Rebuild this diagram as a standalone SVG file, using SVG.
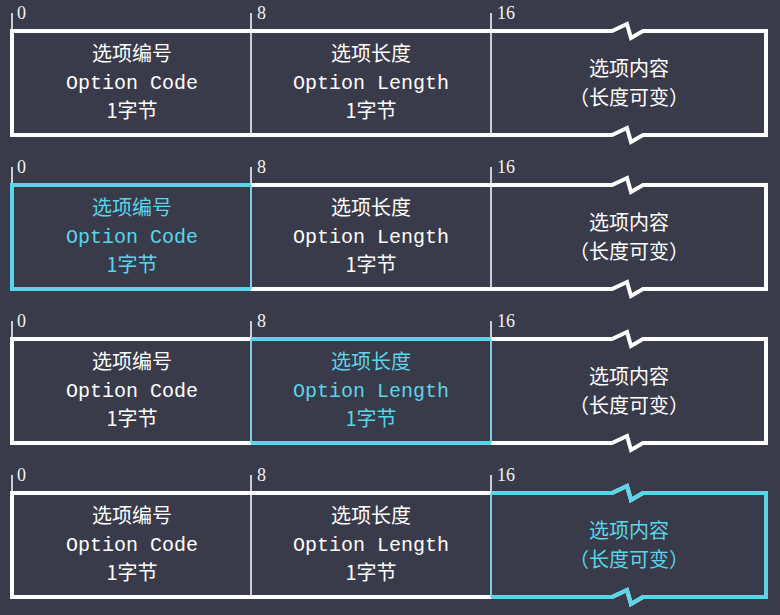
<svg xmlns="http://www.w3.org/2000/svg" width="780" height="615" viewBox="0 0 780 615">
<style>
.bg{fill:#393a4a}
.frame{fill:none;stroke:#ffffff;stroke-width:4;stroke-linejoin:miter}
.div{stroke:#ffffff;stroke-width:1.5}
.hl{fill:none;stroke:#5ad5ea;stroke-width:4;stroke-linejoin:miter}
.hlt{stroke:#5ad5ea;stroke-width:1.5}
.num{font-family:"Liberation Serif",serif;font-size:18px;fill:#f2f2f2}
.cn{font-family:"Noto Sans CJK SC",sans-serif;font-size:20px;fill:#ffffff;text-anchor:middle}
.en{font-family:"Liberation Mono",monospace;font-size:20px;fill:#ffffff;text-anchor:middle}
.on .cn,.on .en{fill:#5ad5ea}
</style>
<defs>
<path id="outline" d="M12,0 H612 L627,-7 L631,7 L643,0 H766 V104 H643 L631,111 L627,97 L612,104 H12 Z"/>
<g id="base">
<use href="#outline" class="frame"/>
<line class="div" x1="12" y1="-18" x2="12" y2="0"/>
<line class="div" x1="251" y1="-18" x2="251" y2="104"/>
<line class="div" x1="491" y1="-18" x2="491" y2="104"/>
<text class="num" x="17" y="-12">0</text>
<text class="num" x="257" y="-12">8</text>
<text class="num" x="497" y="-12">16</text>
</g>
</defs>
<rect class="bg" x="0" y="0" width="780" height="615"/>

<g id="row1" transform="translate(0,31)">
<use href="#base"/>
<g id="r1-code"><text class="cn" x="132" y="30">选项编号</text><text class="en" x="132" y="58">Option Code</text><text class="cn" x="132" y="87">1字节</text></g>
<g id="r1-len"><text class="cn" x="371" y="30">选项长度</text><text class="en" x="371" y="58">Option Length</text><text class="cn" x="371" y="87">1字节</text></g>
<g id="r1-val"><text class="cn" x="629" y="45">选项内容</text><text class="cn" x="629" y="74">（长度可变）</text></g>
</g>

<g id="row2" transform="translate(0,185)">
<use href="#base"/>
<path class="hl" d="M251,0 H12 V104 H251"/>
<line class="hlt" x1="251" y1="0" x2="251" y2="104"/>
<g id="r2-code" class="on"><text class="cn" x="132" y="30">选项编号</text><text class="en" x="132" y="58">Option Code</text><text class="cn" x="132" y="87">1字节</text></g>
<g id="r2-len"><text class="cn" x="371" y="30">选项长度</text><text class="en" x="371" y="58">Option Length</text><text class="cn" x="371" y="87">1字节</text></g>
<g id="r2-val"><text class="cn" x="629" y="45">选项内容</text><text class="cn" x="629" y="74">（长度可变）</text></g>
</g>

<g id="row3" transform="translate(0,339)">
<use href="#base"/>
<path class="hl" d="M251,0 H491 M251,104 H491"/>
<line class="hlt" x1="251" y1="0" x2="251" y2="104"/>
<line class="hlt" x1="491" y1="0" x2="491" y2="104"/>
<g id="r3-code"><text class="cn" x="132" y="30">选项编号</text><text class="en" x="132" y="58">Option Code</text><text class="cn" x="132" y="87">1字节</text></g>
<g id="r3-len" class="on"><text class="cn" x="371" y="30">选项长度</text><text class="en" x="371" y="58">Option Length</text><text class="cn" x="371" y="87">1字节</text></g>
<g id="r3-val"><text class="cn" x="629" y="45">选项内容</text><text class="cn" x="629" y="74">（长度可变）</text></g>
</g>

<g id="row4" transform="translate(0,493)">
<use href="#base"/>
<path class="hl" d="M491,0 H612 L627,-7 L631,7 L643,0 H766 V104 H643 L631,111 L627,97 L612,104 H491"/>
<line class="hlt" x1="491" y1="0" x2="491" y2="104"/>
<g id="r4-code"><text class="cn" x="132" y="30">选项编号</text><text class="en" x="132" y="58">Option Code</text><text class="cn" x="132" y="87">1字节</text></g>
<g id="r4-len"><text class="cn" x="371" y="30">选项长度</text><text class="en" x="371" y="58">Option Length</text><text class="cn" x="371" y="87">1字节</text></g>
<g id="r4-val" class="on"><text class="cn" x="629" y="45">选项内容</text><text class="cn" x="629" y="74">（长度可变）</text></g>
</g>
</svg>
